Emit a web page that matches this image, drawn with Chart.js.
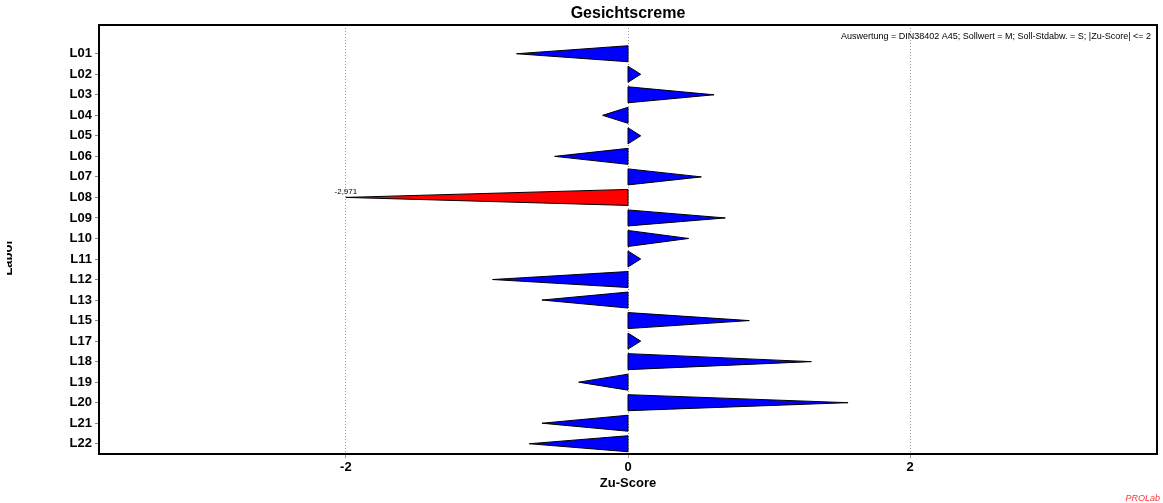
<!DOCTYPE html>
<html>
<head>
<meta charset="utf-8">
<script src="https://cdn.jsdelivr.net/npm/chart.js@4"></script>
<style>
  html, body { margin: 0; padding: 0; background: #fff; }
  #wrap { width: 1163px; height: 503px; }
</style>
</head>
<body>
<div id="wrap"><canvas id="zChart" width="1163" height="503"></canvas></div>
<script>
'use strict';

/* --------------------------------------------------------------------------
   DATA
   -------------------------------------------------------------------------- */
const labs = ['L01', 'L02', 'L03', 'L04', 'L05', 'L06', 'L07', 'L08', 'L09', 'L10',
              'L11', 'L12', 'L13', 'L15', 'L17', 'L18', 'L19', 'L20', 'L21', 'L22'];
const zScores = [-0.79, 0.09, 0.61, -0.18, 0.09, -0.52, 0.52, -2.971, 0.69, 0.43,
                 0.09, -0.96, -0.61, 0.86, 0.09, 1.30, -0.35, 1.56, -0.61, -0.70];
const xTicks = [-2, 0, 2];
const zLimit = 2;

const chartTitle = 'Gesichtscreme';
const infoText = 'Auswertung = DIN38402 A45; Sollwert = M; Soll-Stdabw. = S; |Zu-Score| <= 2';

/* --------------------------------------------------------------------------
   TRIANGLE DATASETS (base on zero line, tip at the z-score)
   -------------------------------------------------------------------------- */
const HALF = 0.39;
const clampZ = v => Math.max(-zLimit, Math.min(zLimit, v));

const datasets = zScores.map((v, i) => {
    const out = Math.abs(v) > zLimit;
    return {
        label: labs[i],
        data: [
            { x: 0, y: i - HALF },
            { x: clampZ(v), y: i },
            { x: 0, y: i + HALF },
            { x: 0, y: i - HALF },
        ],
        showLine: true,
        fill: 'shape',
        tension: 0,
        borderColor: '#000',
        borderWidth: 1,
        backgroundColor: out ? '#ff0000' : '#0000ff',
        pointRadius: 0,
        pointHoverRadius: 0,
    };
});

/* --------------------------------------------------------------------------
   EXTRA TEXT: title, info line, axis titles, out-of-range label
   -------------------------------------------------------------------------- */
const decorPlugin = {
    id: 'decor',
    afterDraw(chart) {
        const { ctx, chartArea: a, scales: { x, y } } = chart;
        ctx.save();

        // top + right frame
        ctx.strokeStyle = '#000';
        ctx.lineWidth = 2;
        ctx.beginPath();
        ctx.moveTo(a.left, a.top);
        ctx.lineTo(a.right, a.top);
        ctx.lineTo(a.right, a.bottom);
        ctx.stroke();

        ctx.fillStyle = '#000';
        ctx.textAlign = 'center';
        ctx.textBaseline = 'middle';
        ctx.font = 'bold 16px "Liberation Sans", Arial, sans-serif';
        ctx.fillText(chartTitle, (a.left + a.right) / 2, 14);

        ctx.font = 'bold 13px "Liberation Sans", Arial, sans-serif';
        ctx.fillText('Zu-Score', x.getPixelForValue(0), 483);

        ctx.textAlign = 'right';
        ctx.font = '9px "Liberation Sans", Arial, sans-serif';
        ctx.fillText(infoText, a.right - 6, 37);

        // values beyond the limit get their number at the tip
        ctx.textAlign = 'center';
        ctx.font = '8px "Liberation Sans", Arial, sans-serif';
        zScores.forEach((v, i) => {
            if (Math.abs(v) > zLimit) {
                ctx.fillText(v.toFixed(3).replace('.', ','),
                    x.getPixelForValue(clampZ(v)), y.getPixelForValue(i) - 6);
            }
        });

        ctx.fillStyle = '#ff3333';
        ctx.textAlign = 'right';
        ctx.font = 'italic 9px "Liberation Sans", Arial, sans-serif';
        ctx.fillText('PROLab', 1160, 498);

        // y title, cut off at the left edge like the original
        ctx.beginPath();
        ctx.rect(7, 0, 40, 503);
        ctx.clip();
        ctx.translate(12, (a.top + a.bottom) / 2);
        ctx.rotate(-Math.PI / 2);
        ctx.fillStyle = '#000';
        ctx.textBaseline = 'alphabetic';
        ctx.font = 'bold 13px "Liberation Sans", Arial, sans-serif';
        ctx.fillText('Labor', 0, 0);

        ctx.restore();
    },
};

/* --------------------------------------------------------------------------
   CHART
   -------------------------------------------------------------------------- */
new Chart(document.getElementById('zChart').getContext('2d'), {
    type: 'scatter',
    data: { datasets },
    options: {
        responsive: false,
        animation: false,
        events: [],
        layout: { padding: { top: 25, right: 6, left: 0, bottom: 0 } },
        plugins: {
            legend: { display: false },
            tooltip: { enabled: false },
            title: { display: false },
        },
        scales: {
            x: {
                type: 'linear',
                min: -3.75,
                max: 3.75,
                afterBuildTicks: s => { s.ticks = xTicks.map(v => ({ value: v })); },
                afterFit: s => { s.height = 49; },
                ticks: {
                    color: '#000',
                    padding: 2,
                    font: { family: '"Liberation Sans", Arial', size: 13, weight: 'bold' },
                    callback: v => String(v),
                },
                grid: { color: '#999', lineWidth: 1, tickLength: 4, tickColor: '#999' },
                border: { color: '#000', width: 2, dash: [1, 2] },
            },
            y: {
                type: 'linear',
                reverse: true,
                min: -1.4,
                max: 19.5,
                afterBuildTicks: s => { s.ticks = labs.map((_, i) => ({ value: i })); },
                afterFit: s => { s.width = 99; },
                ticks: {
                    color: '#000',
                    padding: 3,
                    autoSkip: false,
                    font: { family: '"Liberation Sans", Arial', size: 13, weight: 'bold' },
                    callback: v => labs[v] || '',
                },
                grid: { drawOnChartArea: false, tickLength: 4, tickColor: '#888' },
                border: { color: '#000', width: 2 },
            },
        },
    },
    plugins: [decorPlugin],
});
</script>
</body>
</html>
